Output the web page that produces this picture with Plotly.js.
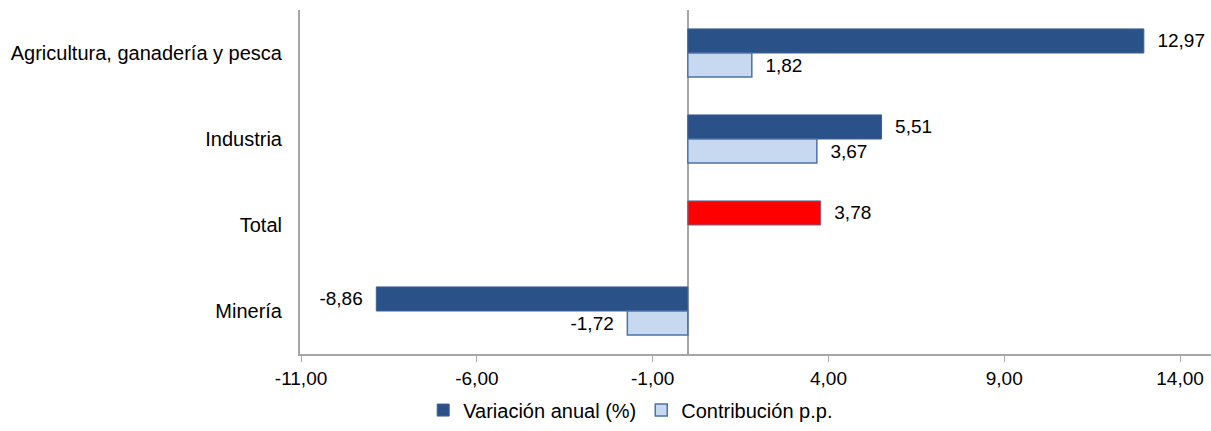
<!DOCTYPE html>
<html>
<head>
<meta charset="utf-8">
<script src="https://cdn.plot.ly/plotly-3.0.1.min.js"></script>
<style>html,body{margin:0;padding:0;background:#fff;}#chart{width:1211px;height:431px;}</style>
</head>
<body>
<div id="chart"></div>
<script>
// Data
const categories = ["Agricultura, ganadería y pesca", "Industria", "Total", "Minería"];
const variacionAnual = [12.97, 5.51, 3.78, -8.86];
const contribucion = [1.82, 3.67, null, -1.72];
const xTickVals = [-11, -6, -1, 4, 9, 14];
const xTickText = ["-11,00", "-6,00", "-1,00", "4,00", "9,00", "14,00"];

const DARK = "#2B5288";
const LIGHT = "#C6D9F0";
const RED = "#FF0000";
const PAD = "\u00a0\u00a0";

function fmt(v) { return v.toFixed(2).replace(".", ","); }
function labels(arr) {
  return arr.map(v => v === null ? "" : (v < 0 ? fmt(v) + PAD : PAD + fmt(v)));
}

const traces = [
  {
    type: "bar", orientation: "h", name: "Variación anual (%)",
    y: categories, x: variacionAnual,
    text: labels(variacionAnual), textposition: "outside", texttemplate: "%{text}",
    cliponaxis: false, constraintext: "none",
    textfont: {family: "Liberation Sans, Arial, sans-serif", size: 19, color: "#000"},
    marker: {
      color: categories.map(c => c === "Total" ? RED : DARK),
      line: {color: categories.map(c => c === "Total" ? "#5A6F9A" : "#3D6196"), width: 1}
    },
    hoverinfo: "x+y"
  },
  {
    type: "bar", orientation: "h", name: "Contribución p.p.",
    y: categories, x: contribucion,
    text: labels(contribucion), textposition: "outside", texttemplate: "%{text}",
    cliponaxis: false, constraintext: "none",
    textfont: {family: "Liberation Sans, Arial, sans-serif", size: 19, color: "#000"},
    marker: {color: LIGHT, line: {color: "#4D72A6", width: 1.5}},
    hoverinfo: "x+y"
  }
];

const layout = {
  width: 1211, height: 431,
  margin: {l: 300, r: 0, t: 10, b: 77},
  paper_bgcolor: "#fff", plot_bgcolor: "#fff",
  font: {family: "Liberation Sans, Arial, sans-serif", size: 19, color: "#000"},
  barmode: "group", bargap: 0.44, bargroupgap: 0,
  showlegend: true,
  legend: {orientation: "h", x: 0.363, xanchor: "center", y: -0.163, yanchor: "middle",
           font: {size: 20}, traceorder: "normal"},
  xaxis: {
    range: [-11.03, 14.88], tickvals: xTickVals, ticktext: xTickText,
    showgrid: false, zeroline: true, zerolinecolor: "#A6A6A6", zerolinewidth: 2,
    showline: true, linecolor: "#A6A6A6", linewidth: 2,
    ticks: "outside", ticklen: 6, tickcolor: "#A6A6A6", tickwidth: 1,
    tickfont: {size: 19}, fixedrange: true
  },
  yaxis: {
    autorange: "reversed", type: "category",
    showgrid: false, zeroline: false,
    showline: true, linecolor: "#A6A6A6", linewidth: 2,
    ticks: "", ticklabelstandoff: 12, tickfont: {size: 20}, fixedrange: true
  }
};

Plotly.newPlot("chart", traces, layout, {displayModeBar: false, staticPlot: true});
</script>
</body>
</html>
